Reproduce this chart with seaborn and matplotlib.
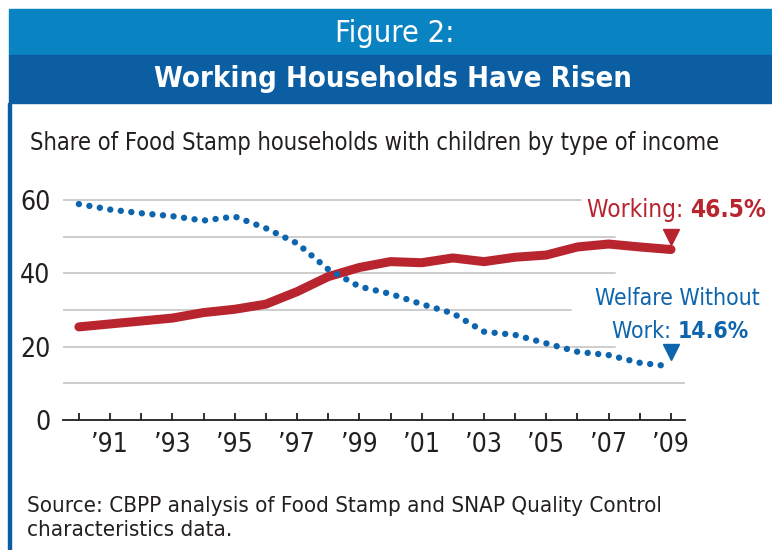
import matplotlib
matplotlib.use("Agg")
import matplotlib.pyplot as plt
from matplotlib import font_manager
from matplotlib.patches import Rectangle
import seaborn as sns
import pandas as pd

# ---------------- data ----------------
years = list(range(1990, 2010))
working = [25.4, 26.2, 27.0, 27.8, 29.3, 30.2, 31.6, 35.0, 39.1, 41.6,
           43.2, 42.9, 44.2, 43.2, 44.4, 45.0, 47.2, 48.0, 47.2, 46.5]
welfare = [58.9, 57.4, 56.4, 55.6, 54.4, 55.5, 52.3, 48.2, 41.1, 36.4,
           34.4, 31.6, 29.1, 24.1, 23.2, 20.9, 18.6, 17.7, 15.6, 14.6]
yticks = [0, 20, 40, 60]
grid_levels = [10, 20, 30, 40, 50, 60]
xtick_labels = ["" if y % 2 == 0 else "\u2019" + str(y)[2:] for y in years]

fig_title = "Figure 2:"
main_title = "Working Households Have Risen"
subtitle = "Share of Food Stamp households with children by type of income"
source = ("Source: CBPP analysis of Food Stamp and SNAP Quality Control\n"
          "characteristics data.")
lab_work, val_work = "Working:", "46.5%"
lab_welf1, lab_welf2, val_welf = "Welfare Without", "Work:", "14.6%"

# ---------------- style ----------------
sns.set_theme(style="white")
names = {f.name for f in font_manager.fontManager.ttflist}
if "Liberation Sans Narrow" in names:
    COND = ["Liberation Sans Narrow", "DejaVu Sans"]
    STRETCH = "normal"
else:
    COND = ["DejaVu Sans"]
    STRETCH = "condensed"
plt.rcParams["font.family"] = COND

RED = "#b8252f"
BLUE = "#0d65ad"
LIGHT = "#0a83c3"
DARK = "#0c5ea3"
TXT = "#231f20"

W, H = 772, 550
fig = plt.figure(figsize=(W / 100, H / 100), dpi=100)
fig.patch.set_facecolor("white")

def fx(x):
    return x / W

def fy(y):
    return 1 - y / H

# header bands & left border
fig.patches.append(Rectangle((fx(9), fy(55)), fx(772) - fx(9), fy(9) - fy(55),
                             transform=fig.transFigure, color=LIGHT, zorder=0))
fig.patches.append(Rectangle((fx(9), fy(103)), fx(772) - fx(9), fy(55) - fy(103),
                             transform=fig.transFigure, color=DARK, zorder=0))
fig.patches.append(Rectangle((fx(8), fy(550)), fx(3), fy(103) - fy(550),
                             transform=fig.transFigure, color=DARK, zorder=0))

fig.text(fx(395), fy(34), fig_title, color="white", fontsize=22, ha="center",
         va="center", fontstretch=STRETCH)
fig.text(fx(393), fy(79), main_title, color="white", fontsize=21, ha="center",
         va="center", fontweight="bold", fontstretch=STRETCH)
fig.text(fx(30), fy(143), subtitle, color=TXT, fontsize=17, ha="left",
         va="center", fontstretch=STRETCH)
fig.text(fx(27), fy(518), source, color=TXT, fontsize=16, ha="left",
         va="center", linespacing=1.3, fontstretch=STRETCH)

# ---------------- axes ----------------
x_left, x_right = 1989.49, 2009.45
ax = fig.add_axes([fx(63), fy(420), fx(685) - fx(63), fy(192.7) - fy(420)])
ax.set_xlim(x_left, x_right)
ax.set_ylim(0, 62)
ax.patch.set_alpha(0)
for s in ["top", "right", "left"]:
    ax.spines[s].set_visible(False)
ax.spines["bottom"].set_color(TXT)
ax.spines["bottom"].set_linewidth(1.3)

grid_end = {10: x_right, 20: 2007.2, 30: 2005.8, 40: 2007.2, 50: 2007.2, 60: 2006.1}
for g in grid_levels:
    ax.plot([x_left, grid_end[g]], [g, g], color="#c9c9c9", lw=1.3, zorder=1)

df = pd.DataFrame({"year": years, "Working": working, "Welfare": welfare})
sns.lineplot(data=df, x="year", y="Working", ax=ax, color=RED, lw=6.5,
             solid_capstyle="round", solid_joinstyle="round", zorder=3)
sns.lineplot(data=df, x="year", y="Welfare", ax=ax, color=BLUE, lw=4.6,
             linestyle=(0, (0.01, 1.65)), dash_capstyle="round", zorder=4)

ax.set_xlabel("")
ax.set_ylabel("")
ax.set_xticks(years)
ax.set_xticklabels(xtick_labels, fontsize=19, color=TXT, fontstretch=STRETCH)
ax.set_yticks(yticks)
ax.set_yticklabels([str(v) for v in yticks], fontsize=19, color=TXT,
                   fontstretch=STRETCH)
ax.tick_params(axis="x", direction="in", length=5, width=1.3, color=TXT, pad=9,
               bottom=True)
ax.tick_params(axis="y", length=0, pad=9)

# end markers
ax.plot([years[-1]], [49.9], marker="v", ms=11, color=RED, clip_on=False, zorder=5)
ax.plot([years[-1]], [18.6], marker="v", ms=11, color=BLUE, clip_on=False, zorder=5)

# annotations
FS = 17.5
t1 = ax.text(2006.30, 55.3, lab_work + " ", color=RED, fontsize=FS,
             ha="left", va="baseline", clip_on=False, fontstretch=STRETCH)
ax.annotate(val_work, xy=(1, 0), xycoords=t1, ha="left", va="bottom",
            color=RED, fontsize=FS, fontweight="bold", annotation_clip=False,
            fontstretch=STRETCH)
FS2 = 16.5
ax.text(2011.85, 31.4, lab_welf1, color=BLUE, fontsize=FS2, ha="right",
        va="baseline", clip_on=False, fontstretch=STRETCH)
t2 = ax.text(2011.5, 22.4, val_welf, color=BLUE, fontsize=FS2,
             ha="right", va="baseline", clip_on=False, fontweight="bold",
             fontstretch=STRETCH)
ax.annotate(lab_welf2 + " ", xy=(0, 0), xycoords=t2, ha="right", va="bottom",
            color=BLUE, fontsize=FS2, annotation_clip=False,
            fontstretch=STRETCH)

fig.savefig("out.png", dpi=100)
